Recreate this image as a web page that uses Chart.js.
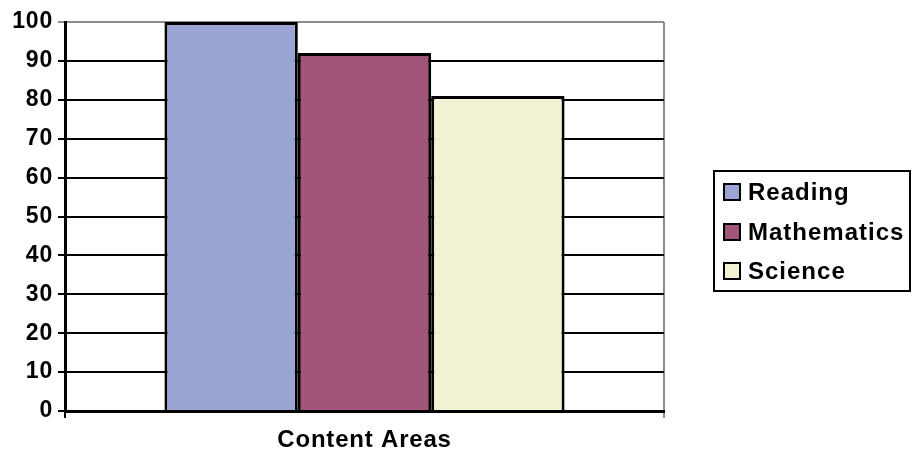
<!DOCTYPE html>
<html>
<head>
  <meta charset="utf-8">
  <title>Content Areas</title>
  <script src="https://cdn.jsdelivr.net/npm/chart.js"></script>
  <style>
    body { margin: 0; background: #fff; font-family: "Liberation Sans", Arial, sans-serif; }
    #wrap { position: relative; width: 913px; height: 452px; }
    #legend { position: absolute; left: 713px; top: 170px; width: 198px; height: 122px; box-sizing: border-box;
              border: 2px solid #000; padding: 0 0 0 8px; }
    .item { height: 39.5px; line-height: 39.5px; font-weight: bold; font-size: 24px; letter-spacing: 1px; white-space: nowrap; }
    .sw { display: inline-block; width: 14px; height: 14px; border: 2px solid #000; margin-right: 7px; vertical-align: -1px; }
  </style>
</head>
<body>
  <div id="wrap">
    <canvas id="chart" width="913" height="452"></canvas>
    <div id="legend"></div>
  </div>

  <script>
    var categories = [''];
    var axisTitle = 'Content Areas';
    var seriesNames = ['Reading', 'Mathematics', 'Science'];
    var seriesValues = [[100], [92], [81]];
    var seriesColors = ['#9aa5d4', '#a15578', '#f3f2d5'];
    var yMin = 0, yMax = 100, yStep = 10;

    var FONT = '"Liberation Sans", Arial, sans-serif';

    // slightly wider text, like the stretched original
    var spacing = {
      id: 'spacing',
      beforeLayout: function(chart) { chart.ctx.letterSpacing = '0.8px'; },
      beforeDraw: function(chart) { chart.ctx.letterSpacing = '0.8px'; }
    };

    var datasets = seriesNames.map(function(name, i) {
      return {
        label: name,
        data: seriesValues[i],
        backgroundColor: seriesColors[i],
        borderColor: '#000',
        borderWidth: 3,
        categoryPercentage: 0.668,
        barPercentage: 1
      };
    });

    var ctx = document.getElementById('chart').getContext('2d');
    var chart = new Chart(ctx, {
      type: 'bar',
      data: { labels: categories, datasets: datasets },
      plugins: [spacing],
      options: {
        responsive: false,
        animation: false,
        layout: { padding: { top: 22, right: 249, bottom: 0, left: 0 } },
        plugins: { legend: { display: false }, tooltip: { enabled: false } },
        scales: {
          x: {
            grid: {
              color: function(c) { return c.index === 0 ? '#000' : '#8c8c8c'; },
              lineWidth: 2,
              tickLength: 7
            },
            border: { color: '#000', width: 3 },
            ticks: { display: false },
            title: {
              display: true,
              text: axisTitle,
              color: '#000',
              font: { family: FONT, size: 24, weight: 'bold' },
              padding: { top: 0, bottom: -3 }
            },
            afterFit: function(s) { s.height = 41; }
          },
          y: {
            min: yMin,
            max: yMax,
            ticks: {
              stepSize: yStep,
              color: '#000',
              padding: 5,
              font: { family: FONT, size: 23, weight: 'bold' }
            },
            grid: {
              color: function(c) { return c.tick && c.tick.value === yMax ? '#8c8c8c' : '#000'; },
              lineWidth: 2,
              tickLength: 7
            },
            border: { color: '#000', width: 3 },
            afterFit: function(s) { s.width = 65; }
          }
        }
      }
    });

    // legend box
    var legend = document.getElementById('legend');
    seriesNames.forEach(function(name, i) {
      var row = document.createElement('div');
      row.className = 'item';
      var sw = document.createElement('span');
      sw.className = 'sw';
      sw.style.background = seriesColors[i];
      row.appendChild(sw);
      row.appendChild(document.createTextNode(name));
      legend.appendChild(row);
    });
  </script>
</body>
</html>
